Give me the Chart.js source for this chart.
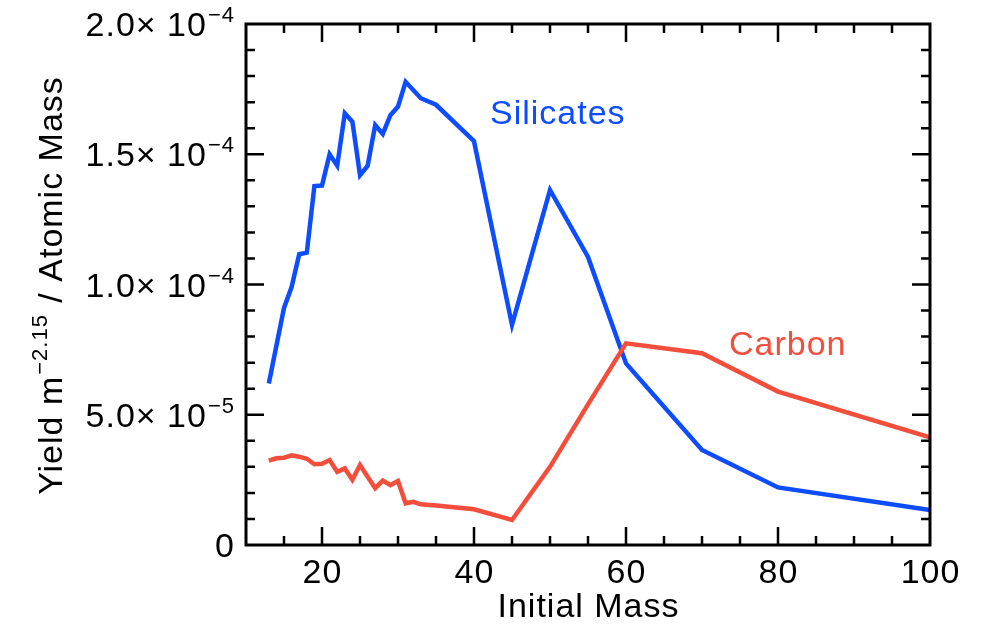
<!DOCTYPE html>
<html>
<head>
<meta charset="utf-8">
<script src="https://cdn.jsdelivr.net/npm/chart.js@4/dist/chart.umd.min.js"></script>
<style>
  html, body { margin: 0; padding: 0; background: #fff; }
  #wrap { width: 981px; height: 625px; position: relative; }
</style>
</head>
<body>
<div id="wrap"><canvas id="chart" width="981" height="625"></canvas></div>
<script>
// Silicates (blue)
const siliMass = [13, 15, 16, 17, 18, 19, 20, 21, 22, 23, 24, 25, 26, 27, 28, 29, 30, 31, 33, 35, 40, 45, 50, 55, 60, 70, 80, 100];
const siliYield = [6.2e-5, 9.1e-5, 9.9e-5, 1.116e-4, 1.122e-4, 1.378e-4, 1.38e-4, 1.50e-4, 1.456e-4, 1.657e-4, 1.625e-4, 1.42e-4, 1.455e-4, 1.612e-4, 1.578e-4, 1.65e-4, 1.683e-4, 1.778e-4, 1.715e-4, 1.69e-4, 1.55e-4, 8.45e-5, 1.363e-4, 1.106e-4, 6.97e-5, 3.65e-5, 2.21e-5, 1.34e-5];

// Carbon (red)
const carbMass = [13, 14, 15, 16, 17, 18, 19, 20, 21, 22, 23, 24, 25, 26, 27, 28, 29, 30, 31, 32, 33, 35, 40, 45, 50, 55, 60, 70, 80, 100];
const carbYield = [3.24e-5, 3.33e-5, 3.35e-5, 3.44e-5, 3.39e-5, 3.31e-5, 3.10e-5, 3.12e-5, 3.26e-5, 2.81e-5, 2.94e-5, 2.50e-5, 3.07e-5, 2.62e-5, 2.18e-5, 2.47e-5, 2.30e-5, 2.46e-5, 1.60e-5, 1.66e-5, 1.56e-5, 1.52e-5, 1.37e-5, 9.6e-6, 3.0e-5, 5.4e-5, 7.74e-5, 7.36e-5, 5.89e-5, 4.13e-5];

// axes
const xTicks = [20, 40, 60, 80, 100];
const xMinorStep = 5;
const yTicks = [0, 5e-5, 1e-4, 1.5e-4, 2e-4];
const yTickMantissa = ['0', '5.0', '1.0', '1.5', '2.0'];
const yTickExponent = ['', '\u22125', '\u22124', '\u22124', '\u22124'];
const yMinorStep = 1e-5;

const BLUE = '#0d4cff';
const RED = '#f24e3b';
const FONT = '"Liberation Sans", Arial, Helvetica, sans-serif';
const SPACING = 1;
const BIG = 34;
const SMALL = 22;

function toPoints(xs, ys) {
  return xs.map((x, i) => ({ x: x, y: ys[i] }));
}

function setFont(ctx, size) {
  ctx.font = size + 'px ' + FONT;
  ctx.letterSpacing = SPACING + 'px';
}

function textW(ctx, s) {
  return ctx.measureText(s).width - SPACING;
}

// draws "m× 10^e" right-aligned at xRight, vertically centred on y
function drawSci(ctx, mant, exp, xRight, y) {
  ctx.textBaseline = 'alphabetic';
  ctx.textAlign = 'left';
  const base = y + 12;
  if (!exp) {
    setFont(ctx, BIG);
    ctx.fillText(mant, xRight - textW(ctx, mant), base);
    return;
  }
  setFont(ctx, SMALL);
  const supW = textW(ctx, exp);
  setFont(ctx, BIG);
  const main = mant + '\u00d7 10';
  const mainW = textW(ctx, main);
  const x0 = xRight - supW - mainW - 2;
  ctx.fillText(main, x0, base);
  setFont(ctx, SMALL);
  ctx.fillText(exp, x0 + mainW + 2, base - 14);
}

const framePlugin = {
  id: 'frame',
  afterDatasetsDraw(chart) {
    const ctx = chart.ctx;
    const a = chart.chartArea;
    const xs = chart.scales.x;
    const ys = chart.scales.y;
    ctx.save();
    ctx.strokeStyle = '#000';
    ctx.fillStyle = '#000';
    ctx.lineWidth = 3;
    ctx.strokeRect(a.left, a.top, a.right - a.left, a.bottom - a.top);

    // x ticks (inward, bottom and top)
    ctx.lineWidth = 2.5;
    for (let v = xs.min + xMinorStep; v < xs.max; v += xMinorStep) {
      const px = xs.getPixelForValue(v);
      const len = xTicks.includes(v) ? 18 : 9;
      ctx.beginPath();
      ctx.moveTo(px, a.bottom); ctx.lineTo(px, a.bottom - len);
      ctx.moveTo(px, a.top); ctx.lineTo(px, a.top + len);
      ctx.stroke();
    }
    // y ticks (inward, left and right)
    for (let i = 1; i * yMinorStep < ys.max - 1e-12; i++) {
      const py = ys.getPixelForValue(i * yMinorStep);
      const len = i % 5 === 0 ? 18 : 9;
      ctx.beginPath();
      ctx.moveTo(a.left, py); ctx.lineTo(a.left + len, py);
      ctx.moveTo(a.right, py); ctx.lineTo(a.right - len, py);
      ctx.stroke();
    }

    // x tick labels
    setFont(ctx, BIG);
    ctx.textAlign = 'left';
    ctx.textBaseline = 'alphabetic';
    xTicks.forEach(v => {
      const s = String(v);
      ctx.fillText(s, xs.getPixelForValue(v) - textW(ctx, s) / 2, a.bottom + 38);
    });
    const xt = 'Initial Mass';
    ctx.fillText(xt, (a.left + a.right) / 2 - textW(ctx, xt) / 2, a.bottom + 72);

    // y tick labels
    yTicks.forEach((v, i) => {
      drawSci(ctx, yTickMantissa[i], yTickExponent[i], a.left - 12, ys.getPixelForValue(v));
    });

    // y title, rotated
    ctx.translate(62, 286);
    ctx.rotate(-Math.PI / 2);
    ctx.textAlign = 'left';
    const p1 = 'Yield m', sup = '\u22122.15', p2 = ' / Atomic Mass';
    setFont(ctx, BIG);
    const w1 = textW(ctx, p1), w3 = textW(ctx, p2);
    setFont(ctx, SMALL);
    const w2 = textW(ctx, sup);
    const x0 = -(w1 + w2 + w3 + 4) / 2;
    setFont(ctx, BIG);
    ctx.fillText(p1, x0, 0);
    setFont(ctx, SMALL);
    ctx.fillText(sup, x0 + w1 + 2, -15);
    setFont(ctx, BIG);
    ctx.fillText(p2, x0 + w1 + w2 + 4, 0);
    ctx.restore();

    // series labels
    ctx.save();
    setFont(ctx, BIG);
    ctx.textAlign = 'left';
    ctx.textBaseline = 'alphabetic';
    ctx.fillStyle = BLUE;
    ctx.fillText('Silicates', 490, 124);
    ctx.fillStyle = RED;
    ctx.fillText('Carbon', 729, 355);
    ctx.restore();
  }
};

new Chart(document.getElementById('chart'), {
  type: 'line',
  data: {
    datasets: [
      {
        label: 'Carbon',
        data: toPoints(carbMass, carbYield),
        borderColor: RED,
        borderWidth: 4.5,
        pointRadius: 0,
        tension: 0,
        order: 0
      },
      {
        label: 'Silicates',
        data: toPoints(siliMass, siliYield),
        borderColor: BLUE,
        borderWidth: 4.5,
        pointRadius: 0,
        tension: 0,
        order: 1
      }
    ]
  },
  options: {
    responsive: false,
    animation: false,
    layout: { padding: { left: 246, right: 51, top: 24, bottom: 80 } },
    plugins: { legend: { display: false }, tooltip: { enabled: false } },
    scales: {
      x: { type: 'linear', min: 10, max: 100, display: false },
      y: { type: 'linear', min: 0, max: 2e-4, display: false }
    }
  },
  plugins: [framePlugin]
});
</script>
</body>
</html>
